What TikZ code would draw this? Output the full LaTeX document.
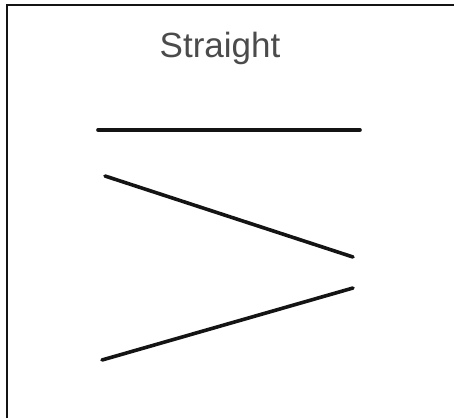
\documentclass[tikz,border=0pt]{standalone}
\usepackage{fontspec}
\setmainfont{Liberation Sans}
\usepackage{tikz}
\usetikzlibrary{positioning}
\definecolor{ink}{RGB}{20,20,20}
\definecolor{label}{RGB}{75,75,75}
\tikzset{
  frame/.style={draw=ink,line width=2.5pt},
  stroke/.style={draw=ink,line width=3.6pt,line cap=round},
  title/.style={font=\fontsize{35}{38}\selectfont,text=label,inner sep=0pt},
}
\begin{document}
\begin{tikzpicture}[x=1pt,y=-1pt]
  \useasboundingbox (0,0) rectangle (454,418);
  % frame
  \draw[frame] (7,418) -- (7,5) -- (454,5);
  % title
  \node[title] (head) at (220,48) {Straight};
  % straight line
  \coordinate (h0) at (98,130);
  \coordinate (h1) at (360,130);
  \draw[stroke] (h0) -- (h1);
  % falling line
  \coordinate (d0) at (105,176);
  \coordinate (d1) at (353,257);
  \draw[stroke] (d0) -- (d1);
  % rising line
  \coordinate (u0) at (102,360);
  \coordinate (u1) at (353,288);
  \draw[stroke] (u0) -- (u1);
\end{tikzpicture}
\end{document}
